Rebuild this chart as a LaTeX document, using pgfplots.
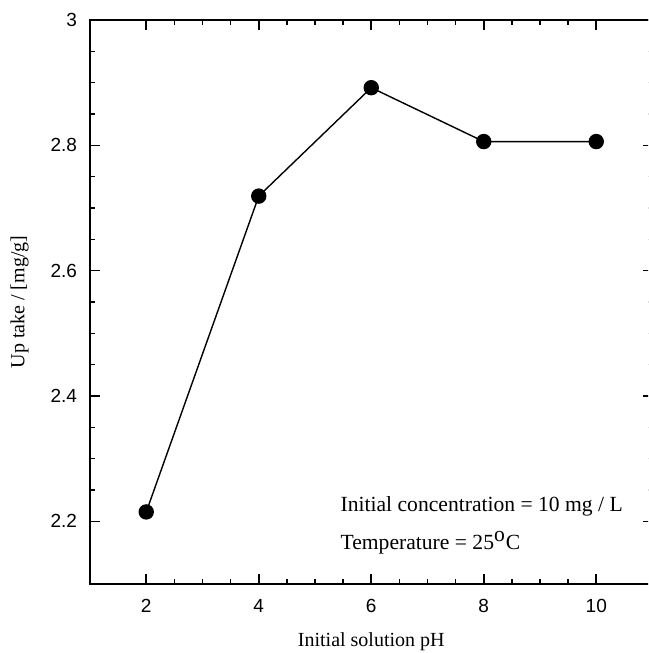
\documentclass[border=0pt]{standalone}
\usepackage{pgfplots}
\pgfplotsset{compat=1.18}
\usepackage{fontspec}
\setmainfont{Liberation Serif}
\newfontfamily\tickfont{Liberation Sans}
\begin{document}
\begin{tikzpicture}
\useasboundingbox (-45pt,-34.5pt) rectangle (279pt,292pt);
\clip (-45pt,-34.5pt) rectangle (279pt,292pt);
\begin{axis}[
  at={(0,0)}, anchor=south west,
  scale only axis, width=281.25pt, height=282pt,
  xmin=1, xmax=11, ymin=2.1, ymax=3,
  xtick={2,4,6,8,10},
  ytick={2.2,2.4,2.6,2.8,3},
  yticklabels={2.2,2.4,2.6,2.8,3},
  minor x tick num=3,
  minor y tick num=3,
  tick align=inside,
  major tick length=5pt,
  minor tick length=2.5pt,
  tick style={black, line width=0.8pt},
  axis line style={line width=1pt},
  tick label style={font=\tickfont\fontsize{9.5}{11}\selectfont},
  /pgf/number format/assume math mode=true,
  xticklabel style={yshift=-4pt},
  yticklabel style={xshift=-3pt},
  xlabel={Initial solution pH},
  ylabel={Up take / [mg/g]},
  label style={font=\fontsize{10}{12}\selectfont},
  xlabel style={yshift=-3pt},
  ylabel style={yshift=4pt},
]
\addplot[black, line width=0.7pt, mark=*, mark size=3.5pt, mark options={fill=black}]
  coordinates {(2,2.215) (4,2.719) (6,2.892) (8,2.806) (10,2.806)};
\node[anchor=west, font=\fontsize{10.8}{13}\selectfont] at (axis cs:5.33,2.224) {Initial concentration = 10 mg / L};
\node[anchor=west, font=\fontsize{10.8}{13}\selectfont] at (axis cs:5.33,2.166) {Temperature = 25$^{\textstyle\mathrm{o}}$C};
\end{axis}
\end{tikzpicture}
\end{document}
